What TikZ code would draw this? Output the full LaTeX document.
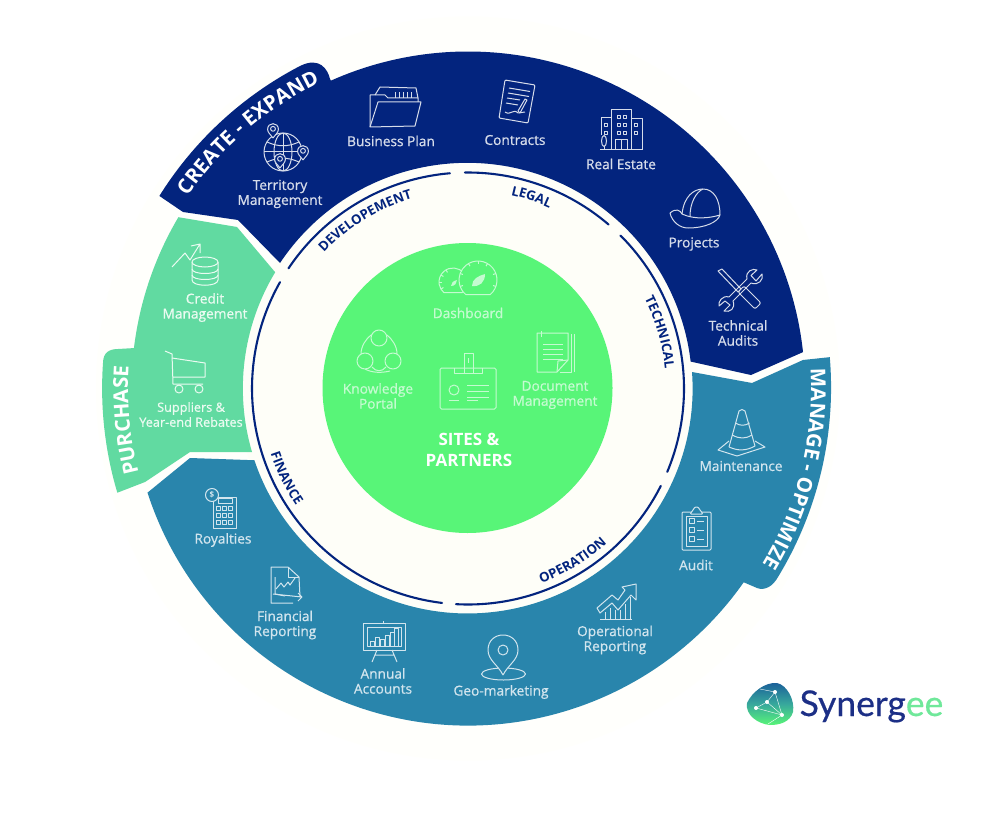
\documentclass[tikz,border=0pt]{standalone}
\usepackage{fontspec}
\setmainfont{Open Sans}
\newfontfamily\labfamily[FakeBold=0.8]{Open Sans}
\newfontfamily\logofamily[FakeBold=0.5]{Lato}
\usetikzlibrary{decorations.text}
\definecolor{segnavy}{HTML}{03247E}
\definecolor{segteal}{HTML}{2985AC}
\definecolor{segmint}{HTML}{61DAA1}
\definecolor{seggreen}{HTML}{58F578}
\definecolor{paper}{HTML}{FEFEF8}
\definecolor{halo}{HTML}{FFFFFC}
\definecolor{txtnavy}{HTML}{D6DCEA}
\definecolor{txtteal}{HTML}{D2E5EE}
\definecolor{txtmint}{HTML}{EAFBF1}
\definecolor{txtgreen}{HTML}{C4FBD0}
\definecolor{logonavy}{HTML}{1C2F86}
\definecolor{logogreen}{HTML}{6FE89A}
\tikzset{
  x=1pt,y=-1pt,
  seg/.style={fill=#1,draw=none},
  ringline/.style={draw=segnavy,line width=2.1pt,line cap=round},
  lab/.style={font=\labfamily\fontsize{13.7}{15}\selectfont,align=center,inner sep=0pt,text=#1},
  labsmall/.style={font=\labfamily\fontsize{12.7}{15}\selectfont,align=center,inner sep=0pt,text=#1},
  icN/.style={draw=txtnavy,line width=1pt,line join=round},
  icT/.style={draw=txtteal,line width=1pt,line join=round},
  icM/.style={draw=txtmint,line width=1pt,line join=round},
  icG/.style={draw=txtgreen,line width=1pt,line join=round},
}
\newcommand{\ringfont}{\fontsize{13.2}{15}\selectfont\bfseries\color{segnavy}}
\newcommand{\bigfont}{\fontsize{20.5}{24}\selectfont\bfseries\color{white}}
\newcommand{\mypin}[4]{\begin{scope}[shift={(#2)},scale=#3]
  \draw[#1,fill=#4] (0,0) .. controls (-0.4,-0.6) and (-1,-1) .. (-1,-1.6) .. controls (-1,-3) and (1,-3) .. (1,-1.6) .. controls (1,-1) and (0.4,-0.6) .. (0,0);
  \draw[#1] (0,-1.7) circle[radius=0.45];
\end{scope}}
\newcommand{\cwtext}[5]{\pgfmathsetmacro{\sa}{#2+#3}\pgfmathsetmacro{\ea}{#2-#3}
  \path[decorate,decoration={text along path,text align=center,text={|#4|#5}}] (ctr) ++(\sa:#1pt) arc[start angle=\sa,end angle=\ea,radius=#1pt];}
\newcommand{\ccwtext}[5]{\pgfmathsetmacro{\sa}{#2-#3}\pgfmathsetmacro{\ea}{#2+#3}
  \path[decorate,decoration={text along path,text align=center,text={|#4|#5}}] (ctr) ++(\sa:#1pt) arc[start angle=\sa,end angle=\ea,radius=#1pt];}
\begin{document}
\begin{tikzpicture}
\useasboundingbox (0,0) rectangle (1000,813);
\fill[white] (0,0) rectangle (1000,813);
\coordinate (ctr) at (468,388.5);
\fill[halo] (ctr) circle[radius=372pt];
\fill[paper] (ctr) circle[radius=230pt];
% ---- segments
\fill[seg=segnavy] (ctr) ++(6.2:337pt) arc[start angle=6.2,end angle=114,radius=337pt] -- (330,79) .. controls (328,70) and (320,56) .. (300,66)
  arc[start angle=117.5,end angle=148,radius=364pt] -- (183,212) -- (238,220) -- (280,263) arc[start angle=146.3,end angle=6.7,radius=225pt] -- (751,375) -- cycle;
\fill[seg=segmint] (ctr) ++(149.4:336.5pt) arc[start angle=149.4,end angle=173.1,radius=336.5pt] -- (118,349) .. controls (110,349) and (103,352) .. (103,363)
  arc[start angle=176,end angle=196.6,radius=365pt] -- (145,482) -- (190,452) -- (252,452) arc[start angle=196.4,end angle=148.9,radius=225pt] -- (237,227) -- cycle;
\fill[seg=segteal] (ctr) ++(198:337pt) arc[start angle=198,end angle=324.9,radius=337pt] -- (757,588) .. controls (765,591) and (773,586) .. (778,577)
  arc[start angle=-31.3,end angle=4.8,radius=364.5pt] -- (803,360) -- (752,383) -- (692,372) arc[start angle=4.2,end angle=-161.4,radius=225pt] -- (190,458) -- cycle;
\fill[seggreen] (467.5,388) circle[radius=145pt];
% ---- ring lines
\draw[ringline] (ctr) ++(146.2:216pt) arc[start angle=146.2,end angle=94.8,radius=216pt];
\draw[ringline] (ctr) ++(90.8:216pt) arc[start angle=90.8,end angle=49.4,radius=216pt];
\draw[ringline] (ctr) ++(45.1:216pt) arc[start angle=45.1,end angle=-22.7,radius=216pt];
\draw[ringline] (ctr) ++(-26.8:216pt) arc[start angle=-26.8,end angle=-93.2,radius=216pt];
\draw[ringline] (ctr) ++(150.5:216pt) arc[start angle=150.5,end angle=263.1,radius=216pt];
% ---- curved labels
\cwtext{198}{121.5}{24}{\ringfont}{DEVELOPEMENT}
\cwtext{198}{71.6}{14}{\ringfont}{LEGAL}
\cwtext{198}{16.3}{20}{\ringfont}{TECHNICAL}
\ccwtext{208}{-58.7}{20}{\ringfont}{OPERATION}
\ccwtext{208}{206.3}{16}{\ringfont}{FINANCE}
\cwtext{340}{130.7}{20}{\bigfont}{CREATE - EXPAND}
\cwtext{340}{185.3}{14}{\bigfont}{PURCHASE}
\cwtext{343}{-13.8}{22}{\bigfont}{MANAGE - OPTIMIZE}
% ---- item labels
\node[lab=txtnavy] (territory) at (280,194) {Territory\\Management};
\node[lab=txtnavy] (bizplan) at (391,141) {Business Plan};
\node[lab=txtnavy] (contracts) at (515,140) {Contracts};
\node[lab=txtnavy] (realestate) at (621,164) {Real Estate};
\node[lab=txtnavy] (projects) at (694,244) {Projects};
\node[lab=txtnavy] (techaudits) at (738,333) {Technical\\Audits};
\node[lab=txtteal] (maint) at (741,466) {Maintenance};
\node[lab=txtteal] (audit) at (696,565) {Audit};
\node[lab=txtteal] (opreport) at (615,640) {Operational\\Reporting};
\node[lab=txtteal] (geomark) at (501,692) {Geo-marketing};
\node[lab=txtteal] (annual) at (383,681) {Annual\\Accounts};
\node[lab=txtteal] (finreport) at (285,625) {Financial\\Reporting};
\node[lab=txtteal] (royalties) at (223,540) {Royalties};
\node[labsmall=txtmint] (suppliers) at (191,414.5) {Suppliers \&\\Year-end Rebates};
\node[lab=txtmint] (credit) at (205,307.5) {Credit\\Management};
\node[lab=txtgreen] (dashboard) at (468,313) {Dashboard};
\node[lab=txtgreen] (knowledge) at (378,396) {Knowledge\\Portal};
\node[lab=txtgreen] (document) at (555,395) {Document\\Management};
\node[font=\fontsize{17}{21}\selectfont\bfseries,align=center,inner sep=0pt,text=white] (sites) at (469,449.5) {SITES \&\\PARTNERS};
% ---- icon: globe
\draw[icN] (283,152) circle[radius=19pt];
\draw[icN] (283,152) ellipse[x radius=9pt,y radius=19pt];
\draw[icN] (264,152) -- (302,152) (283,133) -- (283,171);
\draw[icN] (267,142) .. controls (278,147) and (288,147) .. (299,142);
\draw[icN] (267,162) .. controls (278,157) and (288,157) .. (299,162);
\mypin{icN}{273,138}{5.4}{segnavy}
\mypin{icN}{303,160}{5.4}{segnavy}
\mypin{icN}{280,168}{5.4}{segnavy}
% ---- icon: folder
\draw[icN] (370,127) -- (370,95) -- (385,95) -- (388,98) -- (418,98) -- (418,102);
\draw[icN] (375,95) -- (380,87) -- (416,88) -- (418,98);
\draw[icN] (370,127) -- (378,102) -- (421,102) -- (415,126) -- cycle;
\foreach \xx in {395,399,403,407,411} \draw[icN] (\xx,92) -- (\xx,98);
% ---- icon: contract
\draw[icN,rounded corners=1pt] (505,80) -- (535,85) -- (528,123) -- (499,118) -- cycle;
\draw[icN] (509,88) -- (530,91.5) (508,93) -- (529,96.5) (507,98) -- (520,100) (506,103) -- (518,105);
\draw[icN] (505,112) .. controls (511,116) and (513,108) .. (518,113) -- (525,112);
\draw[icN] (527,100) -- (520,113) -- (518,111) -- (525,99) -- cycle;
% ---- icon: building
\draw[icN] (611,150) -- (611,110) -- (631,110) -- (631,150);
\draw[icN] (611,118) -- (601,118) -- (601,135) (631,119) -- (642,119) -- (642,150);
\draw[icN] (600,150) -- (642,150);
\foreach \yy in {117,125,133} \foreach \xx in {619,625} \draw[icN] (\xx-1.5,\yy-1.5) rectangle (\xx+1.5,\yy+1.5);
\foreach \yy in {125,133} \foreach \xx in {606,636} \draw[icN] (\xx-1.5,\yy-1.5) rectangle (\xx+1.5,\yy+1.5);
\draw[icN] (615,150) -- (615,140) -- (627,140) -- (627,150) (621,140) -- (621,150);
\draw[icN] (604,141) ellipse[x radius=2.5pt,y radius=5.5pt];
\draw[icN] (604,146) -- (604,150);
% ---- icon: hard hat
\draw[icN] (682,214) .. controls (684,196) and (694,189) .. (703,189) .. controls (714,189) and (720,200) .. (720,215);
\draw[icN] (690,216) .. controls (690,203) and (696,192) .. (703,189);
\draw[icN] (670,213) .. controls (676,208) and (680,210) .. (682,214) .. controls (695,220) and (710,218) .. (720,215) .. controls (718,222) and (705,228) .. (688,228) .. controls (680,228) and (672,222) .. (670,213);
% ---- icon: tools
\draw[icN] (718,271) -- (722,269) -- (741,289) -- (738,292) -- cycle;
\draw[icN,rounded corners=2pt] (738,292) -- (744,286) -- (761,303) -- (755,309) -- cycle;
\draw[icN] (747,279) .. controls (745,271) and (753,268) .. (757,270) -- (751,275.5) -- (756,281) -- (762,274) .. controls (764,280) and (758,286) .. (751,283) -- (733,301) .. controls (736,308) and (730,313) .. (724,311) -- (730,305) -- (725,301) -- (719,306) .. controls (718,302) and (722,295) .. (729,297) -- cycle;
% ---- icon: cone
\draw[icT] (729,441) -- (718,450) -- (737,456) -- (765,447) -- (755,441);
\draw[icT] (729,447) -- (739,411) .. controls (741,409) and (743,409) .. (745,411) -- (755,446) .. controls (746,451) and (738,451) .. (729,447);
\draw[icT] (735.5,423) .. controls (740,426) and (745,426) .. (749.5,423);
\draw[icT] (732,435) .. controls (740,439) and (745,439) .. (752,435);
% ---- icon: clipboard
\draw[icT,rounded corners=1pt] (682,512) rectangle (711,550);
\draw[icT] (686,516) rectangle (707,546);
\draw[icT,rounded corners=1pt,fill=segteal] (690,514) -- (693,510) -- (695,507) -- (698,507) -- (700,510) -- (703,514) -- cycle;
\foreach \yy in {521,530,539} {\draw[icT] (689,\yy-2.5) rectangle (694,\yy+2.5); \draw[icT] (697,\yy) -- (704,\yy);}
% ---- icon: operational chart
\draw[icT] (597,608) -- (612,595) -- (618,600) -- (625,590) -- (622,587) -- (636,584) -- (636,600) -- (631,595) -- (618,610) -- (612,603) -- (600,613) -- cycle;
\draw[icT] (600,619) -- (632,619);
\draw[icT] (605,619) -- (605,612) (610,619) -- (610,608) (615,619) -- (615,610) (620,619) -- (620,610) (625,619) -- (625,604) (630,619) -- (630,597);
% ---- icon: geo pin
\draw[icT] (503.5,674) ellipse[x radius=22pt,y radius=6pt];
\draw[icT,fill=segteal] (503,675) .. controls (498,665) and (488,660) .. (488,650) .. controls (488,630) and (518,630) .. (518,650) .. controls (518,660) and (508,665) .. (503,675);
\draw[icT] (503,650) circle[radius=5pt];
% ---- icon: board
\draw[icT] (363,623) rectangle (405,650);
\draw[icT] (367,627) rectangle (401,646) ;
\draw[icT] (383,623) -- (383,621);
\draw[icT] (377,650) -- (372,662) (392,650) -- (397,662) (375,655) -- (394,655);
\foreach \xx/\tt in {372/641,377/637,382/639,387/635,392/632,396/628} \draw[icT] (\xx-2,646) rectangle (\xx+2,\tt);
% ---- icon: chart document
\draw[icT] (300,597) -- (299,577) -- (288,567) -- (271,567) -- (271,603) -- (293,603);
\draw[icT] (288,567) -- (288,577) -- (299,577);
\draw[icT] (275,577) -- (275,594) -- (285,596);
\draw[icT] (273,594) -- (302,597) (298,593) -- (302,597) -- (298,601);
\draw[icT] (276,589) -- (281,583) -- (284,587) -- (288,582) -- (290,585) -- (295,578);
% ---- icon: calculator
\draw[icT] (213,497) rectangle (236,528);
\draw[icT] (218,498) rectangle (232,503);
\foreach \xx in {218,224,230} \foreach \yy in {508,515,522} \draw[icT] (\xx-2,\yy-2) rectangle (\xx+2,\yy+2);
\draw[icT,fill=segteal] (212,495) circle[radius=6.5pt];
\node[inner sep=0pt,text=txtteal,font=\fontsize{8}{8}\selectfont\bfseries] (dollar) at (212,495) {\$};
% ---- icon: credit
\draw[icM] (192,262) -- (192,280) .. controls (192,287) and (218,287) .. (218,280) -- (218,262);
\draw[icM,fill=segmint] (205,262) ellipse[x radius=13pt,y radius=5pt];
\draw[icM] (192,269) .. controls (192,275) and (218,275) .. (218,269);
\draw[icM] (192,275) .. controls (192,281) and (218,281) .. (218,275);
\draw[icM] (172,267) -- (185,253) -- (190,260) -- (200,244) (191,246) -- (200,244) -- (200,253);
% ---- icon: cart
\draw[icM] (165,351) -- (172,354) -- (173,384) -- (203,384);
\draw[icM] (172,358) -- (205,363) -- (205,377) -- (173,377);
\draw[icM] (179,389) circle[radius=4pt] (199,389) circle[radius=4pt];
% ---- icon: dashboard
\coordinate (gl) at (453,282); \coordinate (gr) at (478,280);
\draw[icG] (gl) ++(-50:14pt) arc[start angle=-50,end angle=230,radius=14pt] -- cycle;
\draw[icG,fill=seggreen] (gr) ++(-50:19pt) arc[start angle=-50,end angle=230,radius=19pt] -- cycle;
\foreach \aa in {-20,20,60,90,120,160,200} \draw[icG] (gr) ++(\aa:19pt) -- ++(\aa+180:3pt);
\foreach \aa in {120,150,180,210} \draw[icG] (gl) ++(\aa:14pt) -- ++(\aa+180:3pt);
\fill[txtgreen] (472,286) .. controls (472,279) and (478,276) .. (485,274) .. controls (485,282) and (480,287) .. (472,286) -- cycle;
\fill[txtgreen] (451,286) .. controls (451,283) and (453,281) .. (457,280) .. controls (457,283) and (455,286) .. (451,286) -- cycle;
% ---- icon: knowledge
\draw[icG] (379,338) circle[radius=8pt] (365,361) circle[radius=8pt] (393,361) circle[radius=8pt];
\draw[icG] (361,354) .. controls (361,346) and (366,339) .. (371,335);
\draw[icG] (387,335) .. controls (392,339) and (397,346) .. (397,354);
\draw[icG] (372,367) .. controls (376,372) and (382,372) .. (386,367);
\draw[icG] (365,369) .. controls (372,373) and (382,373) .. (390,371);
% ---- icon: id card
\draw[icG,rounded corners=1.5pt] (440,368) rectangle (496,409);
\draw[icG] (454,368) -- (454,373) -- (482,373) -- (482,368);
\draw[icG] (464,373) -- (464,353) -- (473,353) -- (473,373);
\draw[icG] (468.5,358) -- (468.5,363);
\draw[icG] (454,390) circle[radius=5pt];
\draw[icG] (467,385) -- (489,385) (467,391) -- (489,391) (467,397) -- (489,397);
\draw[icG] (449,400) -- (459,400) (467,400) -- (478,400);
% ---- icon: document
\draw[icG] (557,372) -- (537,372) -- (537,333) -- (568,333) -- (568,360) -- cycle;
\draw[icG] (557,372) -- (558,361) -- (568,360);
\draw[icG] (571,334) -- (571,372) -- (560,372) (574,334) -- (574,372);
\draw[icG] (541,331) -- (541,337);
\foreach \yy in {344,349,354,359} \draw[icG] (543,\yy) -- (563,\yy);
% ---- logo
\path[top color=segteal!60!segnavy,bottom color=seggreen,middle color=segteal!70!seggreen] (747,703) .. controls (752,692) and (765,682) .. (777,683) .. controls (787,685) and (795,700) .. (793,712) .. controls (790,722) and (780,725) .. (770,725) .. controls (758,724) and (745,715) .. (747,703) -- cycle;
\draw[white,line width=0.4pt] (775,692) -- (767,702) -- (756,708) (767,702) -- (782,715) -- (756,708) (775,692) -- (782,715) (775,692) -- (760,689) (782,715) -- (768,724);
\fill[white] (775,692) circle[radius=2pt] (767,702) circle[radius=2pt] (756,708) circle[radius=2pt] (782,715) circle[radius=2pt];
\node[anchor=base,inner sep=0pt,font=\logofamily\fontsize{35.5}{38}\selectfont] (logo) at (871.5,716) {\textcolor{logonavy}{Synerg}\textcolor{logogreen}{ee}};
\end{tikzpicture}
\end{document}
